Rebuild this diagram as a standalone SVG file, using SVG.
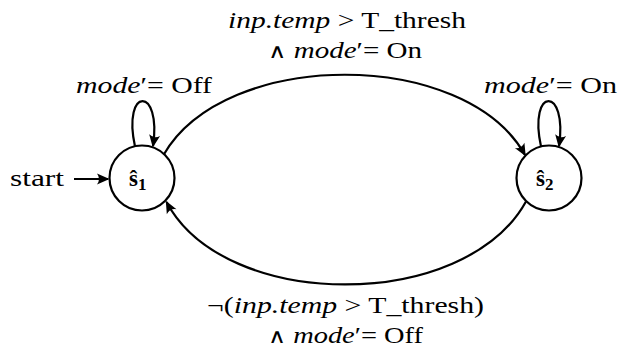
<svg xmlns="http://www.w3.org/2000/svg" width="623" height="348" viewBox="0 0 623 348">
<style>
text{font-family:"Liberation Serif","DejaVu Serif",serif;font-size:23px;fill:#000}
.it{font-style:italic}
.op{font-family:"DejaVu Serif",serif;font-weight:normal;font-size:20px}
.node circle{fill:#fff;stroke:#000;stroke-width:2.2}
.node text{font-weight:bold}
.edge{fill:none;stroke:#000;stroke-width:2.2;marker-end:url(#ah)}
</style>
<defs>
<marker id="ah" markerUnits="userSpaceOnUse" markerWidth="16" markerHeight="16" viewBox="-13 -8 16 16" refX="0" refY="0" orient="auto">
<path d="M1.5,0 L-11,-5.5 Q-7,0 -11,5.5 Z" fill="#000"/>
</marker>
</defs>
<g id="connectors">
<path class="edge" d="M74,179 L108,179"/>
<path class="edge" d="M163.5,155 C225,48 465,48 525,155"/>
<path class="edge" d="M526,201.5 C465,312 225,312 166.5,202"/>
<path class="edge" d="M135,146.5 C122,86 162,86 153,146"/>
<path class="edge" d="M541,146.5 C528,86 568,86 559,146"/>
</g>
<g id="s1" class="node">
<circle cx="142" cy="178" r="32.5"/>
<text x="129" y="186">ŝ<tspan font-size="17px" dy="4">1</tspan></text>
</g>
<g id="s2" class="node">
<circle cx="549" cy="178" r="32.5"/>
<text x="536" y="186">ŝ<tspan font-size="17px" dy="4">2</tspan></text>
</g>
<g id="labels">
<text x="10" y="186" textLength="54" lengthAdjust="spacingAndGlyphs">start</text>
<text x="76" y="93" textLength="136" lengthAdjust="spacingAndGlyphs"><tspan class="it">mode</tspan>′= Off</text>
<text x="484" y="93" textLength="133" lengthAdjust="spacingAndGlyphs"><tspan class="it">mode</tspan>′= On</text>
<text x="228" y="28" textLength="238" lengthAdjust="spacingAndGlyphs"><tspan class="it">inp.temp</tspan> &gt; T_thresh</text>
<text x="268" y="58" textLength="154" lengthAdjust="spacingAndGlyphs"><tspan class="op">∧</tspan> <tspan class="it">mode</tspan>′= On</text>
<text x="207" y="313" textLength="277" lengthAdjust="spacingAndGlyphs">¬(<tspan class="it">inp.temp</tspan> &gt; T_thresh)</text>
<text x="268" y="343" textLength="155" lengthAdjust="spacingAndGlyphs"><tspan class="op">∧</tspan> <tspan class="it">mode</tspan>′= Off</text>
</g>
</svg>
